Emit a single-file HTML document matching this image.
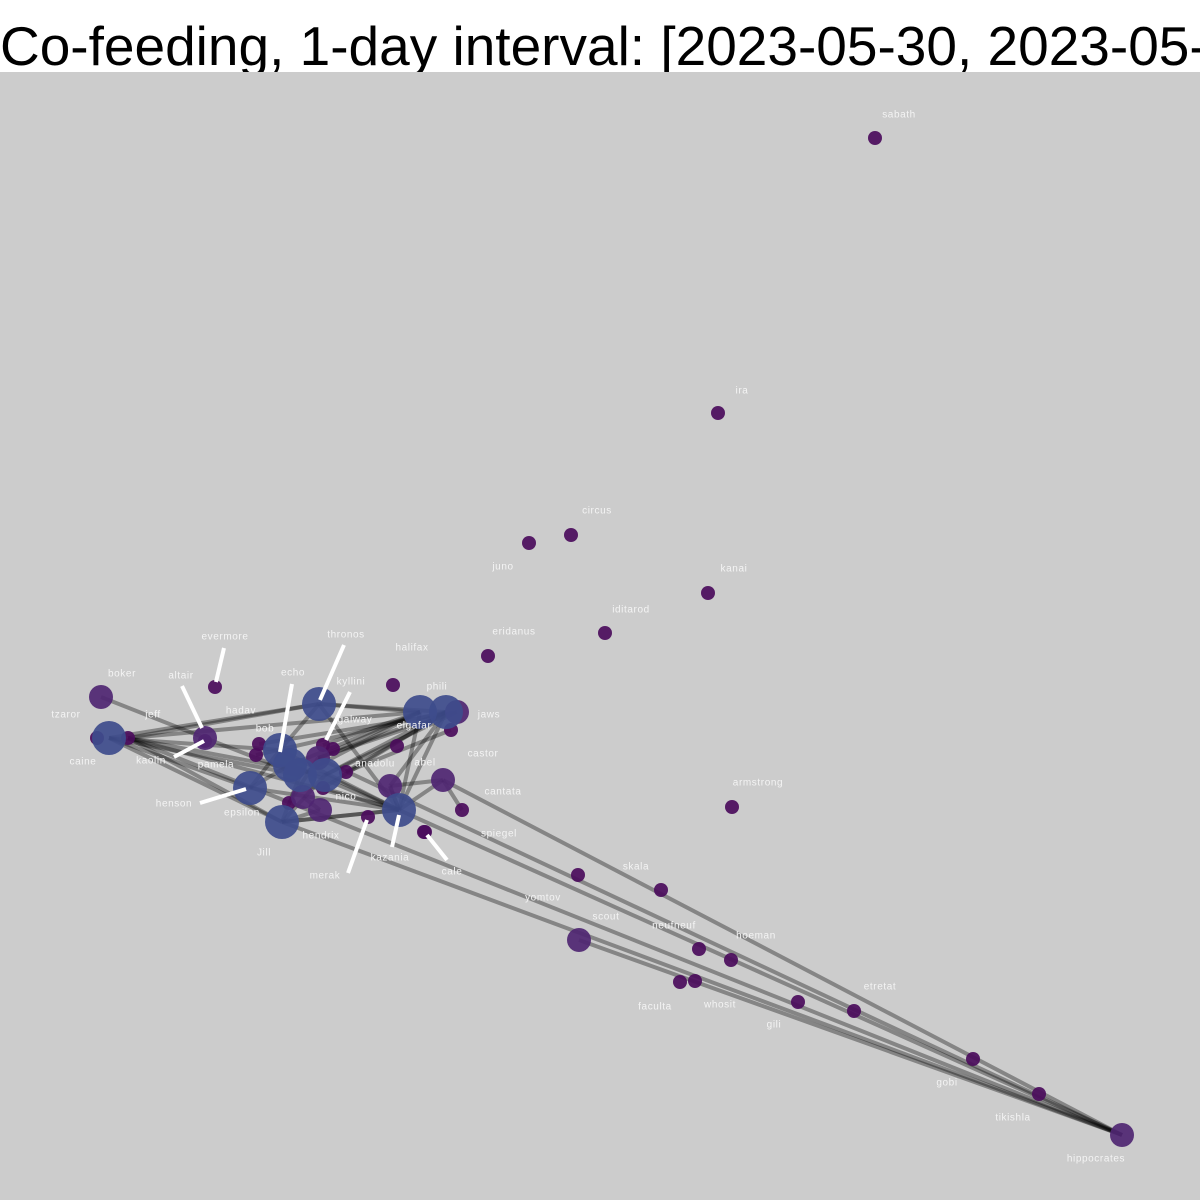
<!DOCTYPE html>
<html><head><meta charset="utf-8"><style>
body{margin:0;width:1200px;height:1200px;overflow:hidden;background:#fff;font-family:"Liberation Sans",sans-serif}
#title{position:absolute;left:0;top:0;width:1200px;height:72px;background:#fff;font-size:55px;line-height:60px;padding-top:16px;box-sizing:border-box;white-space:nowrap;overflow:hidden;color:#000}
svg{position:absolute;left:0;top:72px}
</style></head><body>
<div id="title">Co-feeding, 1-day interval: [2023-05-30, 2023-05-31]</div>
<svg id="g" width="1200" height="1128" viewBox="0 72 1200 1128">
<rect x="0" y="72" width="1200" height="1128" fill="#cccccc"/>
</svg>
<script>
// node data: name, x, y, size class (0 small,1 medium,2 large)
const names=["sabath","ira","circus","juno","kanai","iditarod","eridanus","halifax","evermore","boker","tzaror","caine","jeff","altair","kaolin","thronos","phili","elgafar","jaws","j2","galway","kyllini","h1","hadav","h2","echo","bob","pamela","c1","c2","anadolu","abel","castor","henson","hendrix","Jill","epsilon","n1","nico","kazania","merak","cantata","cale","spiegel","armstrong","skala","yomtov","scout","neufneuf","hoeman","faculta","whosit","gili","etretat","gobi","tikishla","hippocrates"];
const xs=[875,718,571,529,708,605,488,393,215,101,97,109,128,205,205,319,420,446,457,451,323,333,397,259,256,280,290,300,318,325,346,390,443,250,320,282,303,289,323,399,368,462,424,425,732,578,661,579,699,731,680,695,798,854,973,1039,1122];
const ys=[138,413,535,543,593,633,656,685,687,697,738,738,738,738,741,704,712,712,712,730,745,749,746,744,755,750,765,775,758,775,772,786,780,788,810,822,797,803,788,810,817,810,832,832,807,875,890,940,949,960,982,981,1002,1011,1059,1094,1135];
const sizes=[0,0,0,0,0,0,0,0,0,1,0,2,0,1,0,2,2,2,1,0,0,0,0,0,0,2,2,2,1,2,0,1,1,2,1,2,1,0,0,2,0,0,0,0,0,0,0,1,0,0,0,0,0,0,0,0,1];
const labelNames=["sabath","ira","circus","juno","kanai","iditarod","eridanus","halifax","evermore","boker","tzaror","caine","jeff","altair","kaolin","thronos","phili","elgafar","jaws","galway","kyllini","hadav","echo","bob","pamela","anadolu","abel","castor","henson","hendrix","Jill","epsilon","nico","kazania","merak","cantata","cale","spiegel","armstrong","skala","yomtov","scout","neufneuf","hoeman","faculta","whosit","gili","etretat","gobi","tikishla","hippocrates"];
const labelX=[899,742,597,503,734,631,514,412,225,122,66,83,153,181,151,346,437,414,489,355,351,241,293,265,216,375,425,483,174,321,264,242,346,390,325,503,452,499,758,636,543,606,674,756,655,720,774,880,947,1013,1096];
const labelY=[115,391,511,567,569,610,632,648,637,674,715,762,715,676,761,635,687,726,715,720,682,711,673,729,765,764,763,754,804,836,853,813,797,858,876,792,872,834,783,867,898,917,926,936,1007,1005,1025,987,1083,1118,1159];
// edges (index pairs)
const edgeA=[9,11,11,11,11,12,12,12,12,13,15,15,15,15,16,16,16,17,17,17,17,18,18,25,25,26,27,29,31,31,33,35,35,36,39,39,39,56,56,56,56,56,56,28,20,23,24,33,35,37,38,41,16,17,19,12,11];
const edgeB=[13,25,27,35,33,16,29,39,35,27,16,17,25,39,39,27,26,29,39,31,38,29,28,33,39,39,35,39,39,32,39,39,34,34,31,32,35,32,39,35,28,47,12,17,16,18,17,26,29,28,39,32,28,30,30,15,15];
const S='http://www.w3.org/2000/svg';
const g=document.getElementById('g');
function mk(t,a){const e=document.createElementNS(S,t);for(const k in a)e.setAttribute(k,a[k]);g.appendChild(e);return e;}
for(let i=0;i<edgeA.length;i++){const a=edgeA[i],b=edgeB[i];
 const e=mk('line',{x1:xs[a],y1:ys[a],x2:xs[b],y2:ys[b],stroke:'#000','stroke-opacity':0.35,'stroke-width':4});
 
 }
const R=[7,12,17],C=['#4b0c5c','#4f2672','#3e4c8c'];
const order=[...sizes.keys()].sort((a,b)=>sizes[a]-sizes[b]);
for(const i of order){
 const c=mk('circle',{cx:xs[i],cy:ys[i],r:R[sizes[i]],fill:C[sizes[i]],'fill-opacity':0.92});
 
 }
// leader lines
const lead=[[224,648,216,682],[182,686,202,728],[174,757,204,741],[292,684,280,752],[344,645,320,700],[350,692,326,740],[200,803,246,789],[348,873,367,820],[392,847,399,815],[447,860,427,835]];
for(const l of lead){const e=mk('line',{x1:l[0],y1:l[1],x2:l[2],y2:l[3],stroke:'#fff','stroke-width':4});
 
 }
for(let i=0;i<labelNames.length;i++){
 const t=mk('text',{x:labelX[i],y:labelY[i],fill:'#f4f4f4','font-size':10,'letter-spacing':'0.6','font-family':'Liberation Sans, sans-serif','dominant-baseline':'middle','text-anchor':'middle'});
 t.textContent=labelNames[i];
 
 }
</script>
</body></html>
